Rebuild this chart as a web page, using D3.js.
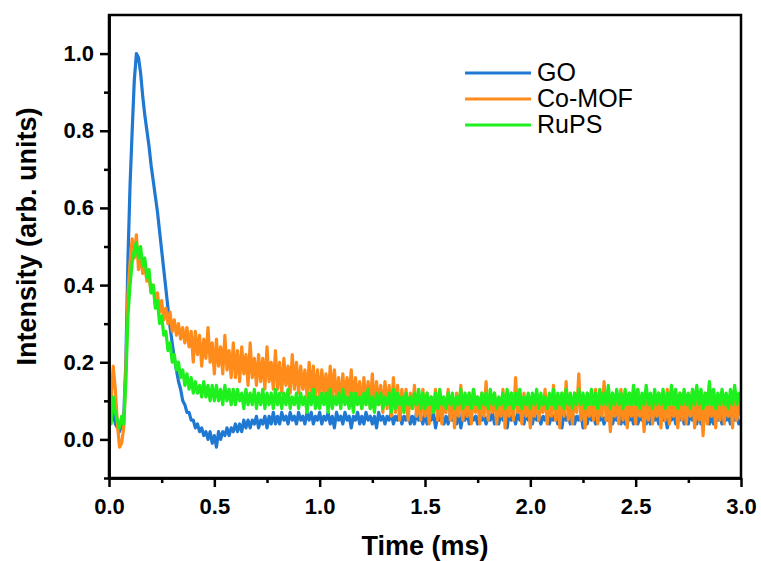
<!DOCTYPE html>
<html lang="en">
<head>
  <meta charset="UTF-8">
  <title>Intensity vs Time</title>
  <script src="https://d3js.org/d3.v7.min.js"></script>
  <style>
    body { margin: 0; background: #fff; }
    svg { display: block; font-family: "Liberation Sans", Arial, sans-serif; }
    .axis path, .axis line { stroke: #000; stroke-width: 2.5; }
    .axis text { font-size: 22px; font-weight: bold; fill: #000; }
    .title { font-size: 27px; font-weight: bold; }
    .legend { font-size: 25px; }
    .trace { fill: none; stroke-width: 3.2; stroke-linejoin: round; }
  </style>
</head>
<body>
<svg width="761" height="561"></svg>
<script>
// time grid: one sample every 0.01 ms from 0 to 3 ms
const timeStart = 0, timeStep = 0.01;

const seriesNames = ["GO", "Co-MOF", "RuPS"];
const seriesColors = ["#1f78d1", "#ff8c1a", "#1ef01e"];

const goValues = [
  0.09,0.05,0.07,0.04,0.03,0.02,0.04,0.06,0.20,0.47,
  0.66,0.80,0.93,1.00,0.99,0.95,0.89,0.84,0.80,0.76,
  0.71,0.67,0.63,0.59,0.54,0.49,0.44,0.39,0.34,0.29,
  0.25,0.21,0.18,0.15,0.13,0.10,0.09,0.07,0.07,0.05,
  0.05,0.03,0.04,0.02,0.03,0.01,0.02,0.00,0.02,-0.01,
  0.01,-0.02,0.02,0.00,0.02,0.01,0.03,0.01,0.03,0.02,
  0.04,0.02,0.04,0.02,0.05,0.03,0.05,0.03,0.05,0.04,
  0.06,0.03,0.05,0.04,0.06,0.03,0.06,0.04,0.07,0.04,
  0.06,0.04,0.07,0.05,0.06,0.04,0.07,0.05,0.06,0.04,
  0.07,0.05,0.06,0.04,0.07,0.05,0.07,0.04,0.06,0.05,
  0.07,0.04,0.06,0.05,0.07,0.04,0.06,0.03,0.07,0.05,
  0.06,0.04,0.07,0.05,0.06,0.03,0.06,0.05,0.07,0.04,
  0.06,0.04,0.07,0.05,0.06,0.04,0.06,0.03,0.07,0.05,
  0.06,0.04,0.06,0.05,0.07,0.04,0.06,0.05,0.07,0.04,
  0.06,0.05,0.07,0.04,0.06,0.04,0.07,0.05,0.06,0.04,
  0.07,0.04,0.06,0.05,0.07,0.03,0.06,0.05,0.06,0.04,
  0.06,0.04,0.07,0.05,0.06,0.04,0.07,0.03,0.06,0.05,
  0.07,0.04,0.06,0.05,0.06,0.04,0.07,0.05,0.06,0.04,
  0.06,0.05,0.07,0.04,0.06,0.04,0.07,0.05,0.06,0.03,
  0.07,0.05,0.06,0.04,0.07,0.05,0.06,0.04,0.07,0.05,
  0.06,0.04,0.07,0.05,0.06,0.04,0.06,0.05,0.07,0.04,
  0.06,0.05,0.07,0.04,0.06,0.03,0.07,0.05,0.06,0.04,
  0.07,0.04,0.06,0.05,0.07,0.03,0.06,0.04,0.07,0.05,
  0.06,0.04,0.07,0.05,0.06,0.04,0.06,0.05,0.07,0.04,
  0.06,0.05,0.07,0.04,0.06,0.04,0.07,0.05,0.06,0.04,
  0.07,0.04,0.06,0.05,0.07,0.04,0.06,0.04,0.07,0.05,
  0.06,0.04,0.07,0.05,0.06,0.03,0.06,0.05,0.07,0.04,
  0.06,0.05,0.07,0.04,0.06,0.04,0.07,0.05,0.06,0.04,
  0.07,0.04,0.06,0.05,0.07,0.04,0.06,0.04,0.07,0.05,
  0.06,0.04,0.07,0.05,0.06,0.04,0.07,0.05,0.06,0.04,
  0.05
];

const comofValues = [
  0.12,0.10,0.19,0.13,0.04,-0.02,-0.01,0.03,0.18,0.38,
  0.46,0.52,0.47,0.53,0.44,0.48,0.43,0.45,0.41,0.42,
  0.38,0.40,0.35,0.38,0.33,0.36,0.31,0.34,0.30,0.33,
  0.28,0.31,0.27,0.30,0.26,0.29,0.25,0.29,0.24,0.28,
  0.20,0.28,0.22,0.27,0.19,0.26,0.21,0.29,0.20,0.25,
  0.17,0.26,0.19,0.24,0.17,0.27,0.18,0.23,0.16,0.25,
  0.16,0.23,0.15,0.24,0.17,0.22,0.14,0.25,0.16,0.21,
  0.14,0.22,0.15,0.21,0.13,0.24,0.15,0.20,0.13,0.23,
  0.13,0.20,0.12,0.21,0.14,0.19,0.12,0.22,0.13,0.20,
  0.12,0.19,0.13,0.18,0.11,0.20,0.12,0.19,0.11,0.18,
  0.11,0.18,0.12,0.17,0.10,0.19,0.11,0.18,0.10,0.16,
  0.09,0.17,0.10,0.16,0.11,0.18,0.09,0.16,0.10,0.15,
  0.08,0.16,0.09,0.15,0.08,0.17,0.08,0.15,0.09,0.14,
  0.07,0.15,0.08,0.14,0.06,0.16,0.07,0.14,0.05,0.13,
  0.07,0.13,0.05,0.12,0.08,0.14,0.06,0.11,0.05,0.13,
  0.06,0.12,0.04,0.11,0.07,0.13,0.05,0.12,0.04,0.10,
  0.07,0.13,0.05,0.11,0.03,0.12,0.06,0.14,0.05,0.10,
  0.06,0.12,0.04,0.13,0.07,0.11,0.04,0.12,0.06,0.15,
  0.05,0.11,0.07,0.12,0.04,0.10,0.06,0.13,0.03,0.11,
  0.06,0.12,0.05,0.16,0.07,0.11,0.04,0.12,0.06,0.10,
  0.03,0.11,0.06,0.12,0.05,0.10,0.07,0.13,0.04,0.11,
  0.06,0.14,0.05,0.11,0.03,0.12,0.06,0.15,0.05,0.10,
  0.04,0.12,0.07,0.17,0.05,0.11,0.03,0.12,0.06,0.10,
  0.05,0.13,0.04,0.11,0.06,0.15,0.05,0.10,0.02,0.12,
  0.06,0.11,0.04,0.13,0.05,0.10,0.03,0.12,0.06,0.11,
  0.04,0.13,0.06,0.10,0.02,0.12,0.05,0.11,0.04,0.10,
  0.06,0.12,0.03,0.11,0.05,0.13,0.04,0.10,0.06,0.11,
  0.03,0.12,0.05,0.10,0.04,0.11,0.06,0.13,0.03,0.10,
  0.05,0.11,0.01,0.12,0.04,0.10,0.06,0.12,0.03,0.11,
  0.05,0.12,0.04,0.10,0.06,0.11,0.03,0.12,0.05,0.10,
  0.06
];

const rupsValues = [
  0.10,0.04,0.11,0.07,0.05,0.03,0.06,0.04,0.15,0.32,
  0.40,0.46,0.49,0.51,0.47,0.50,0.45,0.47,0.42,0.44,
  0.38,0.40,0.34,0.36,0.30,0.32,0.27,0.28,0.23,0.25,
  0.20,0.22,0.18,0.20,0.16,0.18,0.14,0.17,0.13,0.16,
  0.12,0.15,0.12,0.14,0.11,0.15,0.11,0.14,0.10,0.14,
  0.10,0.14,0.10,0.13,0.09,0.14,0.10,0.13,0.09,0.13,
  0.09,0.13,0.10,0.12,0.08,0.13,0.09,0.12,0.09,0.13,
  0.08,0.12,0.09,0.13,0.08,0.12,0.09,0.12,0.08,0.13,
  0.09,0.12,0.08,0.12,0.09,0.13,0.08,0.11,0.09,0.12,
  0.08,0.12,0.09,0.11,0.07,0.12,0.09,0.13,0.08,0.11,
  0.08,0.12,0.09,0.12,0.07,0.13,0.08,0.11,0.09,0.12,
  0.08,0.13,0.09,0.11,0.08,0.12,0.07,0.12,0.09,0.11,
  0.08,0.12,0.09,0.13,0.08,0.11,0.07,0.12,0.09,0.12,
  0.08,0.11,0.09,0.12,0.07,0.13,0.08,0.12,0.09,0.11,
  0.07,0.12,0.09,0.11,0.08,0.12,0.09,0.13,0.08,0.12,
  0.08,0.12,0.09,0.11,0.07,0.12,0.08,0.13,0.09,0.11,
  0.08,0.12,0.09,0.12,0.08,0.11,0.09,0.13,0.08,0.12,
  0.09,0.12,0.08,0.13,0.09,0.11,0.08,0.12,0.09,0.12,
  0.08,0.13,0.09,0.12,0.08,0.11,0.09,0.12,0.08,0.13,
  0.09,0.12,0.08,0.12,0.09,0.13,0.08,0.11,0.09,0.12,
  0.08,0.12,0.09,0.13,0.08,0.12,0.09,0.11,0.08,0.12,
  0.09,0.13,0.08,0.12,0.09,0.12,0.08,0.13,0.09,0.12,
  0.08,0.12,0.09,0.13,0.09,0.12,0.08,0.12,0.09,0.13,
  0.09,0.12,0.08,0.13,0.09,0.12,0.09,0.14,0.08,0.12,
  0.09,0.13,0.09,0.12,0.08,0.13,0.09,0.12,0.09,0.14,
  0.09,0.13,0.08,0.12,0.09,0.14,0.09,0.12,0.08,0.13,
  0.09,0.12,0.09,0.13,0.08,0.12,0.09,0.14,0.09,0.13,
  0.08,0.12,0.09,0.13,0.09,0.12,0.08,0.13,0.09,0.14,
  0.09,0.13,0.08,0.12,0.09,0.15,0.09,0.13,0.08,0.12,
  0.09,0.13,0.09,0.12,0.08,0.13,0.09,0.14,0.09,0.12,
  0.10
];

const xMajorTicks = [0, 0.5, 1.0, 1.5, 2.0, 2.5, 3.0];
const xMinorTicks = [0.25, 0.75, 1.25, 1.75, 2.25, 2.75];
const yMajorTicks = [0, 0.2, 0.4, 0.6, 0.8, 1.0];
const yMinorTicks = [-0.1, 0.1, 0.3, 0.5, 0.7, 0.9];

const svg = d3.select("svg"),
      margin = {top: 15, right: 20, bottom: 83, left: 109},
      width = +svg.attr("width") - margin.left - margin.right,
      height = +svg.attr("height") - margin.top - margin.bottom;

const g = svg.append("g").attr("transform", `translate(${margin.left},${margin.top})`);

const x = d3.scaleLinear().domain([0, 3]).range([0, width]);
const y = d3.scaleLinear().domain([-0.1, 1.1]).range([height, 0]);

g.append("clipPath").attr("id", "plot-clip")
  .append("rect").attr("width", width).attr("height", height);

const series = [goValues, comofValues, rupsValues].map((vals, i) => ({
  name: seriesNames[i],
  color: seriesColors[i],
  points: vals.map((v, k) => ({t: timeStart + k * timeStep, v: v}))
}));

const line = d3.line().x(d => x(d.t)).y(d => y(d.v));

g.append("g").attr("clip-path", "url(#plot-clip)")
  .selectAll("path")
  .data(series)
  .enter().append("path")
  .attr("class", "trace")
  .attr("stroke", d => d.color)
  .attr("d", d => line(d.points));

// axes
g.append("g").attr("class", "axis")
  .attr("transform", `translate(0,${height})`)
  .call(d3.axisBottom(x).tickValues(xMinorTicks).tickSize(5).tickSizeOuter(0).tickFormat(""));
g.append("g").attr("class", "axis")
  .attr("transform", `translate(0,${height})`)
  .call(d3.axisBottom(x).tickValues(xMajorTicks).tickSize(9).tickSizeOuter(0).tickPadding(11).tickFormat(d3.format(".1f")));

g.append("g").attr("class", "axis")
  .call(d3.axisLeft(y).tickValues(yMinorTicks).tickSize(5).tickSizeOuter(0).tickFormat(""));
g.append("g").attr("class", "axis")
  .call(d3.axisLeft(y).tickValues(yMajorTicks).tickSize(9).tickSizeOuter(0).tickPadding(6).tickFormat(d3.format(".1f")));

// frame
g.append("rect")
  .attr("width", width).attr("height", height)
  .attr("fill", "none").attr("stroke", "#000").attr("stroke-width", 2.5);

// titles
g.append("text").attr("class", "title")
  .attr("x", width / 2).attr("y", height + 77)
  .attr("text-anchor", "middle")
  .text("Time (ms)");

g.append("text").attr("class", "title")
  .attr("transform", `translate(${-73},${height / 2 - 10}) rotate(-90)`)
  .attr("text-anchor", "middle")
  .text("Intensity (arb. units)");

// legend
const legend = g.append("g").attr("transform", `translate(${x(1.69)},${y(0.95)})`);
series.forEach((d, i) => {
  const yPos = i * 26;
  legend.append("line")
    .attr("x1", 0).attr("x2", 66)
    .attr("y1", yPos).attr("y2", yPos)
    .attr("stroke", d.color).attr("stroke-width", 3);
  legend.append("text")
    .attr("class", "legend")
    .attr("x", 72).attr("y", yPos + 8)
    .text(d.name);
});
</script>
</body>
</html>
